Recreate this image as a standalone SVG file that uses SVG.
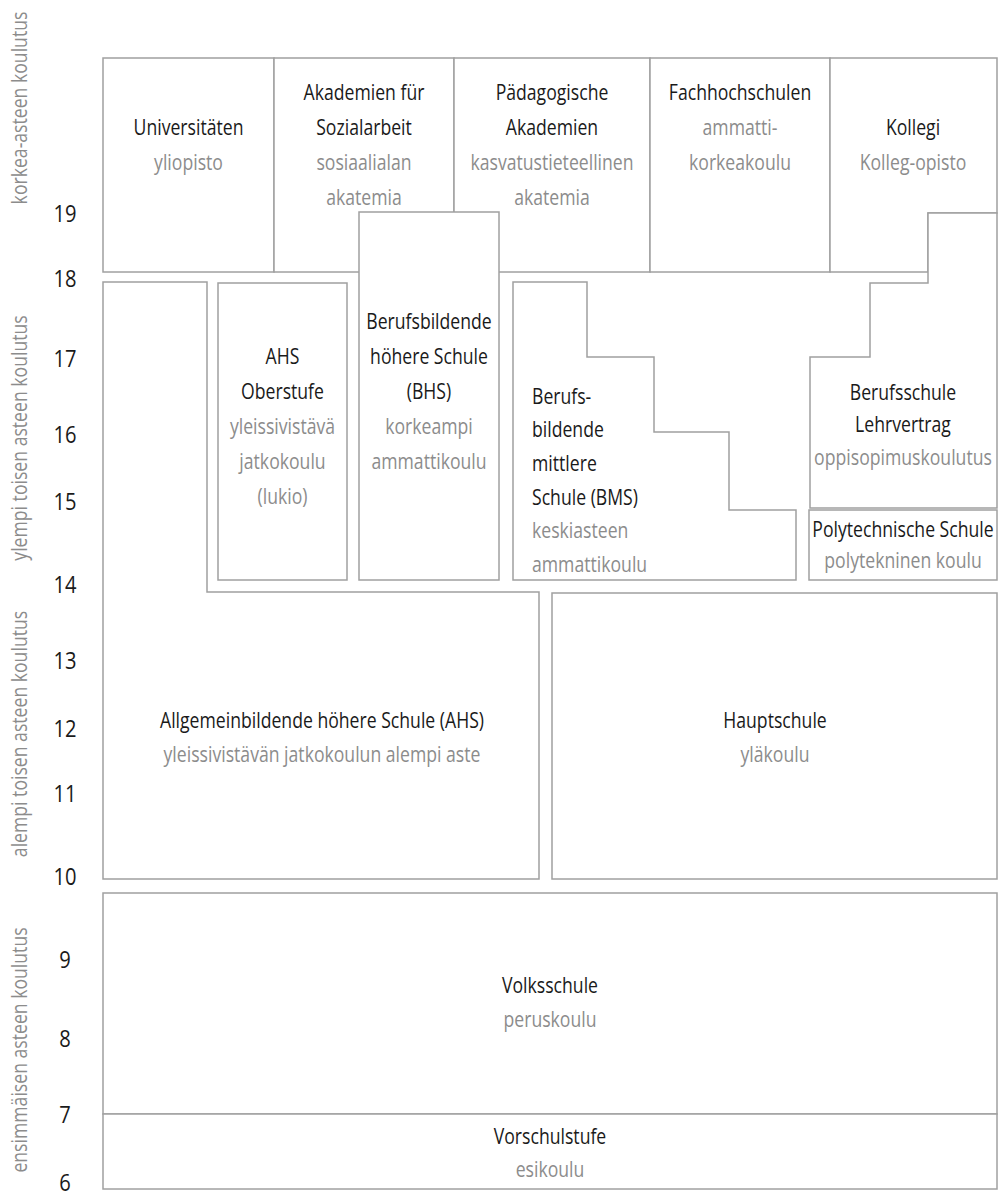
<svg xmlns="http://www.w3.org/2000/svg" width="1006" height="1198" viewBox="0 0 1006 1198">
<style>
.box{fill:#fff;stroke:#a0a0a0;stroke-width:1.5}
text{font-family:"Open Sans","Noto Sans","Liberation Sans",sans-serif;font-weight:400;font-size:21px;text-anchor:middle}
.de{fill:#1a1a1a}
.fi{fill:#8c8c8c}
.num{fill:#1a1a1a;font-size:24px}
.axis{fill:#8c8c8c}
.start{text-anchor:start}
</style>
<rect width="1006" height="1198" fill="#fff"/>
<g id="axis-labels">
<g transform="translate(27 108) rotate(-90) scale(0.84 1)"><text class="axis" x="0" y="0">korkea-asteen koulutus</text></g>
<g transform="translate(27 438) rotate(-90) scale(0.84 1)"><text class="axis" x="0" y="0">ylempi toisen asteen koulutus</text></g>
<g transform="translate(27 734) rotate(-90) scale(0.84 1)"><text class="axis" x="0" y="0">alempi toisen asteen koulutus</text></g>
<g transform="translate(27 1050) rotate(-90) scale(0.84 1)"><text class="axis" x="0" y="0">ensimmäisen asteen koulutus</text></g>
</g>
<g id="age-scale" transform="translate(65 0) scale(0.84 1)">
<text class="num" x="0" y="222">19</text>
<text class="num" x="0" y="287">18</text>
<text class="num" x="0" y="367">17</text>
<text class="num" x="0" y="443">16</text>
<text class="num" x="0" y="510">15</text>
<text class="num" x="0" y="593">14</text>
<text class="num" x="0" y="669">13</text>
<text class="num" x="0" y="737">12</text>
<text class="num" x="0" y="802">11</text>
<text class="num" x="0" y="885">10</text>
<text class="num" x="0" y="968">9</text>
<text class="num" x="0" y="1047">8</text>
<text class="num" x="0" y="1123">7</text>
<text class="num" x="0" y="1191">6</text>
</g>
<g id="connectors"></g>
<g id="universitaeten">
<rect class="box" x="103" y="58" width="171" height="214"/>
<g transform="translate(188.5 0) scale(0.84 1)"><text class="de" x="0" y="135">Universitäten</text><text class="fi" x="0" y="170">yliopisto</text></g>
</g>
<g id="akademien-sozialarbeit">
<rect class="box" x="274" y="58" width="180" height="214"/>
<g transform="translate(364 0) scale(0.84 1)"><text class="de" x="0" y="100">Akademien für</text><text class="de" x="0" y="135">Sozialarbeit</text><text class="fi" x="0" y="170">sosiaalialan</text><text class="fi" x="0" y="205">akatemia</text></g>
</g>
<g id="paedagogische-akademien">
<rect class="box" x="454" y="58" width="196" height="214"/>
<g transform="translate(552 0) scale(0.84 1)"><text class="de" x="0" y="100">Pädagogische</text><text class="de" x="0" y="135">Akademien</text><text class="fi" x="0" y="170">kasvatustieteellinen</text><text class="fi" x="0" y="205">akatemia</text></g>
</g>
<g id="fachhochschulen">
<rect class="box" x="650" y="58" width="180" height="214"/>
<g transform="translate(740 0) scale(0.84 1)"><text class="de" x="0" y="100">Fachhochschulen</text><text class="fi" x="0" y="135">ammatti-</text><text class="fi" x="0" y="170">korkeakoulu</text></g>
</g>
<g id="kollegi">
<polygon class="box" points="830,58 997,58 997,213 928,213 928,272 830,272"/>
<g transform="translate(913 0) scale(0.84 1)"><text class="de" x="0" y="135">Kollegi</text><text class="fi" x="0" y="170">Kolleg-opisto</text></g>
</g>
<g id="bhs">
<rect class="box" x="359" y="212" width="140" height="368"/>
<g transform="translate(429 0) scale(0.84 1)"><text class="de" x="0" y="329">Berufsbildende</text><text class="de" x="0" y="364">höhere Schule</text><text class="de" x="0" y="399">(BHS)</text><text class="fi" x="0" y="434">korkeampi</text><text class="fi" x="0" y="469">ammattikoulu</text></g>
</g>
<g id="berufsschule">
<polygon class="box" points="928,213 997,213 997,508 810,508 810,357 870,357 870,283 928,283"/>
<g transform="translate(903 0) scale(0.84 1)"><text class="de" x="0" y="400">Berufsschule</text><text class="de" x="0" y="432">Lehrvertrag</text><text class="fi" x="0" y="465">oppisopimuskoulutus</text></g>
</g>
<g id="ahs">
<polygon class="box" points="103,282 207,282 207,592 539,592 539,879 103,879"/>
<g transform="translate(322 0) scale(0.84 1)"><text class="de" x="0" y="728">Allgemeinbildende höhere Schule (AHS)</text><text class="fi" x="0" y="762">yleissivistävän jatkokoulun alempi aste</text></g>
</g>
<g id="ahs-oberstufe">
<rect class="box" x="218" y="283" width="129" height="297"/>
<g transform="translate(282.5 0) scale(0.84 1)"><text class="de" x="0" y="364">AHS</text><text class="de" x="0" y="399">Oberstufe</text><text class="fi" x="0" y="434">yleissivistävä</text><text class="fi" x="0" y="469">jatkokoulu</text><text class="fi" x="0" y="504">(lukio)</text></g>
</g>
<g id="bms">
<polygon class="box" points="513,282 587,282 587,357 654,357 654,432 729,432 729,510 796,510 796,580 513,580"/>
<g transform="translate(532 0) scale(0.84 1)"><text class="de start" x="0" y="404">Berufs-</text><text class="de start" x="0" y="437.5">bildende</text><text class="de start" x="0" y="471">mittlere</text><text class="de start" x="0" y="505">Schule (BMS)</text><text class="fi start" x="0" y="538.5">keskiasteen</text><text class="fi start" x="0" y="572">ammattikoulu</text></g>
</g>
<g id="polytechnische-schule">
<rect class="box" x="809" y="510" width="188" height="70"/>
<g transform="translate(903 0) scale(0.84 1)"><text class="de" x="0" y="537">Polytechnische Schule</text><text class="fi" x="0" y="568">polytekninen koulu</text></g>
</g>
<g id="hauptschule">
<rect class="box" x="552" y="593" width="445" height="286"/>
<g transform="translate(775 0) scale(0.84 1)"><text class="de" x="0" y="728">Hauptschule</text><text class="fi" x="0" y="762">yläkoulu</text></g>
</g>
<g id="volksschule">
<rect class="box" x="103" y="893" width="894" height="221"/>
<g transform="translate(550 0) scale(0.84 1)"><text class="de" x="0" y="993">Volksschule</text><text class="fi" x="0" y="1027">peruskoulu</text></g>
</g>
<g id="vorschulstufe">
<rect class="box" x="103" y="1114" width="894" height="75"/>
<g transform="translate(550 0) scale(0.84 1)"><text class="de" x="0" y="1144">Vorschulstufe</text><text class="fi" x="0" y="1177">esikoulu</text></g>
</g>
</svg>
